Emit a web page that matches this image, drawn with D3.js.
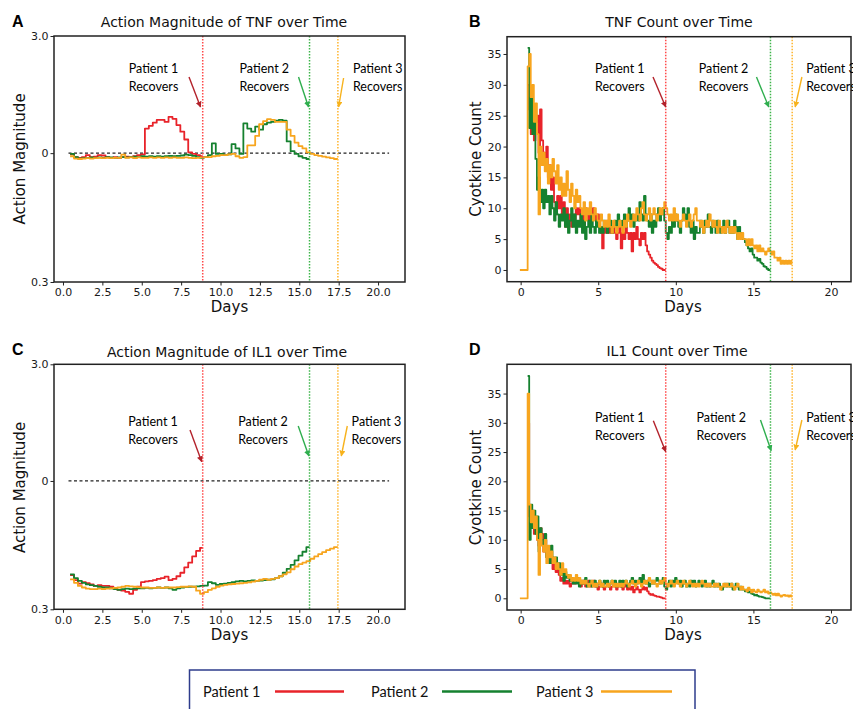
<!DOCTYPE html>
<meta charset="utf-8">
<script src="https://d3js.org/d3.v7.min.js"></script>
<style>
  body { margin: 0; background: #fff; }
  text { font-family: "DejaVu Sans", sans-serif; }
  .note, .legend text { font-family: Lato, sans-serif; }
</style>
<div id="chart"></div>
<script>
// ---- data ----
const patients = ["Patient 1", "Patient 2", "Patient 3"];
const colors = ["#e8232a", "#15812f", "#f7a51e"];
const guideColors = ["#ff4a4a", "#3db54a", "#ffb52e"];
const arrowColors = ["#b3222b", "#2fae4e", "#f7b21c"];

// recovery days (vertical dotted lines)
const recoveryAction = [8.87, 15.65, 17.45];
const recoveryCount = [9.35, 16.1, 17.5];

const actionDayTicks = [0, 2.5, 5, 7.5, 10, 12.5, 15, 17.5, 20];
const actionTickValues = [3.0, 0, -3.3];
const actionTickLabels = ["3.0", "0", "0.3"];
const countDayTicks = [0, 5, 10, 15, 20];
const countTicks = [0, 5, 10, 15, 20, 25, 30, 35];

// action magnitude, sampled every 0.25 day from day 0.45
const actionStart = 0.45, actionStep = 0.25;
const tnfActionP1 = [-0.03,-0.1,-0.12,-0.1,-0.05,-0.1,-0.09,-0.05,-0.06,-0.1,-0.12,-0.1,-0.12,-0.1,-0.09,-0.1,-0.08,-0.05,-0.03,
  0.63,0.7,0.78,0.85,0.85,0.8,0.93,0.88,0.72,0.55,0.35,0.02,-0.02,-0.05,-0.08];
const tnfActionP2 = [-0.02,-0.1,-0.14,-0.13,-0.12,-0.11,-0.12,-0.11,-0.12,-0.1,-0.11,-0.12,-0.11,-0.1,-0.11,-0.1,-0.09,-0.1,-0.08,
  -0.09,-0.08,-0.09,-0.08,-0.09,-0.08,-0.07,-0.08,-0.07,-0.06,-0.04,-0.05,-0.07,-0.1,-0.12,-0.1,-0.05,0.25,-0.02,-0.02,-0.05,
  -0.03,0.23,0.12,-0.02,0.76,0.63,0.55,0.68,0.6,0.74,0.78,0.8,0.83,0.85,0.83,0.3,0.05,-0.02,-0.08,-0.12,-0.15];
const tnfActionP3 = [-0.08,-0.14,-0.15,-0.14,-0.13,-0.14,-0.13,-0.12,-0.13,-0.12,-0.13,-0.12,-0.12,-0.04,-0.12,-0.11,-0.13,-0.11,
  -0.12,-0.12,-0.11,-0.12,-0.11,-0.12,-0.11,-0.12,-0.11,-0.12,-0.12,-0.11,-0.12,-0.13,-0.12,-0.11,-0.1,-0.1,-0.08,-0.07,-0.05,
  -0.05,-0.03,-0.02,-0.08,-0.12,-0.1,0.2,0.2,0.44,0.74,0.82,0.87,0.85,0.8,0.8,0.8,0.6,0.44,0.27,0.18,0.12,0.02,-0.02,-0.05,
  -0.07,-0.09,-0.11,-0.13,-0.15];

const il1ActionP1 = [-2.42,-2.55,-2.64,-2.6,-2.63,-2.66,-2.7,-2.68,-2.7,-2.7,-2.72,-2.75,-2.8,-2.82,-2.85,-2.9,-2.8,-2.72,-2.6,
  -2.58,-2.57,-2.55,-2.52,-2.5,-2.46,-2.55,-2.52,-2.45,-2.36,-2.22,-2.1,-1.94,-1.8,-1.72];
const il1ActionP2 = [-2.4,-2.5,-2.57,-2.62,-2.66,-2.68,-2.7,-2.72,-2.74,-2.74,-2.76,-2.78,-2.8,-2.78,-2.77,-2.78,-2.77,-2.76,
  -2.76,-2.75,-2.76,-2.75,-2.74,-2.75,-2.74,-2.76,-2.8,-2.76,-2.74,-2.73,-2.72,-2.72,-2.71,-2.7,-2.69,-2.6,-2.63,-2.67,-2.65,
  -2.64,-2.62,-2.6,-2.58,-2.57,-2.58,-2.57,-2.56,-2.57,-2.56,-2.55,-2.54,-2.53,-2.5,-2.45,-2.36,-2.26,-2.16,-2.04,-1.92,-1.82,-1.7];
const il1ActionP3 = [-2.53,-2.62,-2.7,-2.74,-2.77,-2.78,-2.78,-2.77,-2.78,-2.77,-2.76,-2.75,-2.74,-2.72,-2.7,-2.71,-2.72,-2.73,
  -2.74,-2.74,-2.75,-2.75,-2.74,-2.75,-2.74,-2.74,-2.74,-2.73,-2.72,-2.72,-2.71,-2.72,-2.82,-2.9,-2.86,-2.8,-2.76,-2.72,-2.69,
  -2.67,-2.66,-2.65,-2.64,-2.63,-2.62,-2.61,-2.59,-2.57,-2.54,-2.52,-2.54,-2.52,-2.5,-2.45,-2.4,-2.35,-2.27,-2.2,-2.14,-2.1,
  -2.06,-2.0,-1.94,-1.88,-1.83,-1.78,-1.74,-1.7];

// cytokine counts, sampled every 0.1 day
const countStep = 0.1;
const countStarts = [0.45, 0.45, -0.05];
const tnfCountP1 = [30,26,22,25,21,24,25,19,26,21, 19,17,20,15,17,13,15,11,9,12, 10,12,9,11,7,10,8,9,7,9,
  8,10,9,10,8,9,7,10,9,8, 9,8,10,9,8,9,7,6,3.5,7, 6,8,6,7,6,7,6,5,6,7, 3.5,6,5,7,6,5,6,3,6,5,
  7,5,4,6,5,6,4,3,2.5,2, 1.5,1.2,1,0.8,0.5,0.3,0.2,0,0];
const tnfCountP2 = [36,23,29,22,24,18,13,15,11,13, 10,13,11,12,9,12,10,8,11,9, 7,9,8,10,7,9,6,8,10,7,
  9,6,8,7,9,6,8,5,7,8, 6,9,7,6,8,7,6,7,6,8, 7,6,7,8,6,7,8,7,9,8, 7,8,9,7,8,10,8,9,7,8,
  9,8,11,9,8,12,9,8,7,9, 6,8,7,9,10,8,9,10,8,6, 5,7,6,8,7,9,8,7,6,8, 10,9,8,10,7,6,8,5,7,6,
  6,8,7,6,8,7,9,7,6,8, 7,6,8,7,6,7,8,6,7,8, 6,7,6,8,7,5,7,6,5,5, 4.5,4,3.5,3,3.5,2.5,2,2,1.5,1.8,
  1.2,1,0.6,0.5,0.2,0,0];
const tnfCountP3 = [0,0,0,0,0, 33,35,28,30,24,27,22,9,20,17, 19,16,18,14,17,15,18,16,14,17, 13,15,12,14,12,16,13,11,14,12,
  10,13,11,12,10,9,11,8,10,9, 11,9,8,10,9,8,7,9,8,7, 8,7,9,7,6,8,7,6,7,8, 7,6,8,7,9,8,7,8,9,8,
  10,9,8,10,11,9,8,9,10,8, 9,10,9,8,9,10,9,10,11,10, 9,8,9,8,10,8,9,8,7,8, 9,8,7,8,9,7,8,9,10,8,
  8,7,8,6,7,8,7,9,8,7, 8,7,6,8,7,6,7,6,8,7, 6,7,6,7,6,5,6,5,6,5, 5,4,5,4,5,4,3.5,4,3,4,
  3,3.5,3,2.5,3,3.5,3,2.5,3,2, 2,1.5,2,1,1.5,1,1.5,1,1.5,1, 1.5];

const il1CountP1 = [30,14,12,15,11,13,10,9,12,11, 8,10,7,8,6,7,5,6,4.5,5, 4,3,3.5,2.5,3,2.5,3,2,2.5,3,
  2.5,3.5,3,2.5,2,3,2.5,2,2.5,3, 2,2.5,3,2,2.5,1.5,2,2.5,2,1.5, 2,2.5,2,1.5,2,2.5,2,1.5,2,2.5,
  2,1.5,2,2.5,1.5,2,1.5,2,1,1.5, 2,1.5,1,1.5,2,1.5,1.8,1.2,0.8,0.6, 0.7,0.5,0.4,0.3,0.3,0.2,0.1,0,0];
const il1CountP2 = [38,10,16,12,15,11,14,8,12,10, 9,11,7,8,6,9,7,6,7,5, 6,4,5,3,4.5,3.5,4,3,3.5,2.5,
  3,2.5,3.5,2,3,2.5,3,3.5,2,2.5, 3,2,2.5,3,2,2.5,3,2.5,2,3, 2.5,3,2,2.5,3,2.5,3,2,2.5,3,
  2,3,2.5,3,2,2.5,3,3.5,2.5,3, 2.5,3,3.5,2.5,4,3,2.5,3,2,2.5, 3,2.5,3,3.5,3,2.5,3,3.5,2,1.5,
  2.5,3,2,3,2.5,3.5,3,2.5,3,2, 2.5,3,2,2.5,2,3,2.5,3,2,2.5, 3,2.5,2,2.5,3,2,2.5,2,2.5,3,
  2,2.5,2,2.5,2,1.5,2,2.5,2,2.5, 2,2.5,1.5,2,2.5,2,1.5,2,1.5,1.5, 1.2,1.5,1,1.2,0.8,0.7,0.5,0.6,0.4,0.3,
  0.3,0.2,0.1,0,0,0,0];
const il1CountP3 = [0,0,0,0,0, 35,16,13,15,12,14,10,4,11,9, 8,10,6,9,7,8,6,7,5,6, 5,4,6,4.5,5,4,3.5,4,3,3.5,
  3,4,3,3.5,2.5,3,2.5,3,2.5,2, 2.5,3,2,2.5,2,2.5,3,2,2.5,2, 2,2.5,2,2.5,3,2,2.5,2,2.5,2,
  2.5,2,2.5,3,2.5,2,2.5,3,2.5,2, 2.5,3,2.5,2,2.5,3,2.5,3,3.5,3, 2.5,3,2.5,2,2.5,3,2.5,3,3.5,2.5,
  2,2.5,3,2.5,2,2.5,3,2.5,2,2.5, 3,2.5,2,2.5,3,2.5,2,2.5,2,2.5, 2,2.5,3,2.5,2,2.5,2,2.5,2,2,
  2.5,2,2.5,2,1.5,2,2.5,2,2.5,2, 2,2.5,2,1.5,2,2.5,2,1.5,2,1.5, 1.5,1.2,1.8,1.5,1,1.5,1.2,1,1.5,1.2,
  1,1.2,1.5,1,1.2,0.8,1,0.8,0.6,0.8, 0.5,0.8,0.5,0.3,0.5,0.6,0.4,0.5,0.3,0.5, 0.3];

// ---- layout ----
const W = 853, H = 709;
const svg = d3.select("#chart").append("svg")
    .attr("width", W).attr("height", H)
    .style("display", "block");
svg.append("rect").attr("width", W).attr("height", H).attr("fill", "#fff");

const panels = [
  { letter: "A", title: "Action Magnitude of TNF over Time", kind: "action",
    series: [tnfActionP1, tnfActionP2, tnfActionP3],
    box: { l: 54, r: 405, t: 36, b: 282 }, titleX: 224, titleY: 27, letterY: 26.5, labelY: 312, ylabelCY: 159,
    note: { text: [32, 50], dx: [-74, -70, 15],
            arrows: [[-13.7, 41, -2.2, 71], [-11, 41, -1, 71], [5.7, 42, 0.7, 71]] } },
  { letter: "B", title: "TNF Count over Time", kind: "count",
    series: [tnfCountP1, tnfCountP2, tnfCountP3], ydomain: [-1.9, 37.8],
    box: { l: 507, r: 851, t: 36.7, b: 281.7 }, titleX: 679, titleY: 27, letterY: 26.5, labelY: 312, ylabelCY: 159,
    note: { text: [31.3, 49.3], dx: [-70.7, -71.7, 14],
            arrows: [[-12.7, 40.3, 0, 70.3], [-14, 40.3, -1.7, 70.3], [9.7, 40.3, 3, 70.3]] } },
  { letter: "C", title: "Action Magnitude of IL1 over Time", kind: "action",
    series: [il1ActionP1, il1ActionP2, il1ActionP3],
    box: { l: 54, r: 405, t: 364.3, b: 609.3 }, titleX: 227, titleY: 357, letterY: 355, labelY: 640, ylabelCY: 487.5,
    note: { text: [57.4, 75], dx: [-74.4, -71.3, 13.7],
            arrows: [[-12.7, 65.7, -1, 97.4], [-11.3, 61.7, -0.7, 91.7], [9.4, 61.7, 3.4, 91.7]] } },
  { letter: "D", title: "IL1 Count over Time", kind: "count",
    series: [il1CountP1, il1CountP2, il1CountP3], ydomain: [-2.0, 40.0],
    box: { l: 507, r: 851, t: 364.3, b: 610 }, titleX: 677, titleY: 356, letterY: 355, labelY: 640, ylabelCY: 487.5,
    note: { text: [53, 70.7], dx: [-70.7, -74, 14],
            arrows: [[-12.4, 56.4, 0, 87.4], [-10, 55.7, 0.7, 86.4], [9.7, 55.7, 3, 85.7]] } }
];

// arrow markers
const defs = svg.append("defs");
arrowColors.forEach((c, i) => {
  defs.append("marker")
      .attr("id", "arrow" + i)
      .attr("viewBox", "0 0 10 10")
      .attr("refX", 9).attr("refY", 5)
      .attr("markerWidth", 6).attr("markerHeight", 6)
      .attr("markerUnits", "userSpaceOnUse")
      .attr("orient", "auto")
    .append("path").attr("d", "M0,0L10,5L0,10z").attr("fill", c);
});

panels.forEach(p => {
  const b = p.box;
  const isAction = p.kind === "action";
  const g = svg.append("g");

  const x = d3.scaleLinear()
      .domain(isAction ? [-0.57, 21.71] : [-0.88, 21.29])
      .range([b.l, b.r]);
  const y = d3.scaleLinear()
      .domain(isAction ? [-3.3, 3.0] : p.ydomain)
      .range([b.b, b.t]);

  // axes
  const xAxis = d3.axisBottom(x)
      .tickValues(isAction ? actionDayTicks : countDayTicks)
      .tickFormat(isAction ? d3.format(".1f") : d3.format("d"))
      .tickSize(3.5).tickPadding(3);
  const yAxis = d3.axisLeft(y)
      .tickSize(3.5).tickPadding(2);
  if (isAction) yAxis.tickValues(actionTickValues).tickFormat((d, i) => actionTickLabels[i]);
  else yAxis.tickValues(countTicks).tickFormat(d3.format("d"));

  [g.append("g").attr("transform", `translate(0,${b.b})`).call(xAxis),
   g.append("g").attr("transform", `translate(${b.l},0)`).call(yAxis)].forEach(ax => {
    ax.select(".domain").remove();
    ax.selectAll("text").attr("font-size", 11).attr("fill", "#1a1a1a")
      .style("font-family", "'DejaVu Sans', sans-serif");
    ax.selectAll("line").attr("stroke", "#222");
  });

  // zero line
  if (isAction) {
    g.append("line")
        .attr("x1", x(0.35)).attr("x2", x(20.7))
        .attr("y1", y(0)).attr("y2", y(0))
        .attr("stroke", "#222").attr("stroke-width", 1.2)
        .attr("stroke-dasharray", "3,2.5");
  }

  // series
  const line = d3.line().curve(d3.curveStepAfter).x(d => x(d[0])).y(d => y(d[1]));
  const rec = isAction ? recoveryAction : recoveryCount;
  p.series.forEach((vals, i) => {
    const t0 = isAction ? actionStart : countStarts[i];
    const dt = isAction ? actionStep : countStep;
    const pts = vals.map((v, k) => [t0 + k * dt, v]);
    pts.push([rec[i], vals[vals.length - 1]]);
    g.append("path").datum(pts)
        .attr("d", line)
        .attr("fill", "none")
        .attr("stroke", colors[i])
        .attr("stroke-width", 1.8)
        .attr("stroke-linejoin", "round");
  });

  // recovery guides
  rec.forEach((d, i) => {
    g.append("line")
        .attr("x1", x(d)).attr("x2", x(d))
        .attr("y1", b.t).attr("y2", b.b)
        .attr("stroke", guideColors[i]).attr("stroke-width", 1.5)
        .attr("stroke-dasharray", "1.5,1.5");
  });

  // box
  g.append("rect")
      .attr("x", b.l).attr("y", b.t)
      .attr("width", b.r - b.l).attr("height", b.b - b.t)
      .attr("fill", "none").attr("stroke", "#222").attr("stroke-width", 1.5);

  // annotations
  rec.forEach((d, i) => {
    const lx = x(d);
    const t = g.append("text").attr("class", "note")
        .attr("font-size", 12.5).attr("fill", "#000");
    t.append("tspan").attr("x", lx + p.note.dx[i]).attr("y", b.t + p.note.text[0] + 4.5).text(patients[i]);
    t.append("tspan").attr("x", lx + p.note.dx[i]).attr("y", b.t + p.note.text[1] + 4.5).text("Recovers");
    const a = p.note.arrows[i];
    g.append("line")
        .attr("x1", lx + a[0]).attr("y1", b.t + a[1])
        .attr("x2", lx + a[2]).attr("y2", b.t + a[3])
        .attr("stroke", arrowColors[i]).attr("stroke-width", 1.4)
        .attr("marker-end", `url(#arrow${i})`);
  });

  // titles and labels
  g.append("text").attr("x", p.titleX).attr("y", p.titleY)
      .attr("text-anchor", "middle").attr("font-size", 14).attr("fill", "#111")
      .text(p.title);
  g.append("text").attr("x", p.letter === "A" || p.letter === "C" ? 12 : 469).attr("y", p.letterY)
      .attr("font-size", 16).attr("font-weight", "bold").attr("fill", "#000")
      .style("font-family", "'Liberation Sans', Arial, sans-serif")
      .text(p.letter);
  g.append("text").attr("x", (b.l + (isAction ? b.r : 851)) / 2 + (isAction ? 0 : 4)).attr("y", p.labelY)
      .attr("text-anchor", "middle").attr("font-size", 15).attr("fill", "#111")
      .text("Days");
  const ylx = isAction ? 24.5 : 480.5;
  g.append("text")
      .attr("transform", `translate(${ylx},${p.ylabelCY}) rotate(-90)`)
      .attr("text-anchor", "middle").attr("font-size", 15).attr("fill", "#111")
      .text(isAction ? "Action Magnitude" : "Cyotkine Count");
});

// legend
const legend = svg.append("g").attr("class", "legend");
legend.append("rect")
    .attr("x", 189.5).attr("y", 670).attr("width", 505.5).attr("height", 60)
    .attr("fill", "#fff").attr("stroke", "#2e3c8c").attr("stroke-width", 1.5);
const legendTextX = [203, 371, 536];
const legendLine = [[275, 344], [442, 512], [601, 672]];
patients.forEach((name, i) => {
  legend.append("text").attr("x", legendTextX[i]).attr("y", 697)
      .attr("font-size", 14.5).attr("fill", "#111").text(name);
  legend.append("line")
      .attr("x1", legendLine[i][0]).attr("x2", legendLine[i][1])
      .attr("y1", 691.5).attr("y2", 691.5)
      .attr("stroke", colors[i]).attr("stroke-width", 2.5);
});
</script>
